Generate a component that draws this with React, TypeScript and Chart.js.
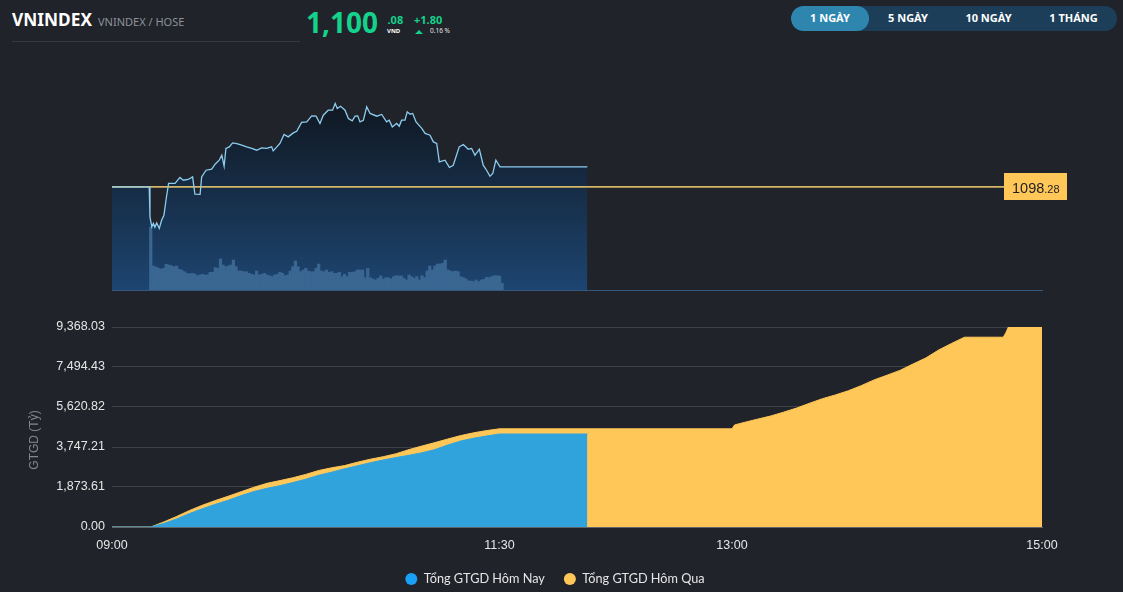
import React, { useEffect, useRef } from "react";
import { Chart, registerables } from "chart.js";

Chart.register(...registerables);

// ---------- DATA ----------
const REF_PRICE = 1098.28;

// intraday index (minutes after 09:00, price)
const priceMinute = [
  0, 14.4, 14.7, 15.4, 16.0, 16.6, 17.3, 18.3, 19.2, 20.1, 20.9, 21.9, 24.4, 26.3, 27.6, 29.5, 31.2, 32.1, 34.1, 34.7,
  36.4, 38.6, 39.9, 41.5, 42.5, 43.4, 44.1, 45.4, 46.7, 48.3, 50.2, 52.1, 54.1, 56.0, 57.9, 59.9, 61.8, 62.4, 63.8, 65.0,
  66.6, 68.2, 70.2, 71.5, 73.4, 75.4, 77.3, 79.0, 80.5, 81.8, 83.7, 85.4, 86.4, 87.2, 88.5, 90.2, 91.5, 93.0, 94.1, 95.1,
  96.0, 97.3, 98.6, 99.9, 102.5, 104.4, 106.3, 107.3, 108.5, 110.2, 111.2, 112.1, 113.4, 114.3, 115.4, 116.4, 117.7, 119.9, 121.2, 123.1,
  124.4, 125.7, 126.7, 128.9, 130.6, 132.1, 134.4, 136.0, 137.9, 139.2, 140.5, 142.2, 143.7, 145.0, 146.3, 147.4, 148.6, 150.2, 184.0,
];
const priceValue = [
  1098.28, 1098.28, 1095.58, 1094.68, 1094.99, 1094.65, 1095.04, 1094.54, 1095.28, 1095.73, 1097.08, 1098.59, 1098.59, 1099.13, 1098.88, 1098.95, 1099.18, 1097.62, 1097.6, 1099.18,
  1099.78, 1099.87, 1100.32, 1100.68, 1101.13, 1100.14, 1101.74, 1101.88, 1102.24, 1102.18, 1102.03, 1101.88, 1101.74, 1101.58, 1101.79, 1101.74, 1101.88, 1101.52, 1101.88, 1102.19,
  1103.0, 1102.78, 1103.14, 1103.29, 1104.08, 1104.13, 1104.67, 1104.64, 1103.99, 1104.73, 1105.18, 1105.18, 1105.79, 1105.34, 1105.54, 1105.18, 1104.44, 1104.22, 1104.64, 1104.67,
  1104.13, 1104.28, 1105.48, 1104.89, 1104.64, 1104.8, 1104.13, 1104.28, 1103.68, 1103.99, 1103.74, 1104.28, 1104.28, 1105.03, 1104.82, 1104.89, 1104.13, 1103.54, 1103.09, 1102.93,
  1102.33, 1102.19, 1100.53, 1100.68, 1100.03, 1100.23, 1101.88, 1102.1, 1101.67, 1101.74, 1101.13, 1101.67, 1100.23, 1099.78, 1099.24, 1099.49, 1100.68, 1100.08, 1100.08,
];

// per-minute volume from 09:15
const volumeStartMinute = 15;
const volumeToday = [
  630, 240, 230, 217, 210, 217, 257, 250, 243, 233,
  240, 207, 200, 183, 167, 160, 167, 160, 143, 150,
  157, 150, 150, 177, 177, 223, 217, 310, 250, 233,
  240, 250, 300, 233, 190, 190, 183, 183, 167, 157,
  150, 190, 150, 157, 167, 150, 143, 133, 150, 157,
  177, 167, 143, 150, 190, 233, 290, 233, 183, 200,
  217, 190, 183, 183, 217, 260, 190, 183, 200,
  177, 183, 167, 167, 177, 133, 157, 133, 177, 177,
  183, 200, 200, 200, 123, 217, 123, 110, 100, 117,
  140, 110, 123, 123, 110, 133, 143, 140, 140, 117,
  100, 150, 133, 117, 133, 100, 143, 123, 190, 240,
  200, 240, 260, 260, 267, 300, 200, 190, 183, 190,
  183, 133, 123, 110, 90, 90, 83, 100, 83, 100,
  107, 127, 123, 133, 143, 143, 140, 67,
];

// cumulative trading value (Tỷ)
const todayMinute = [0, 15, 20, 25, 30, 35, 40, 45, 50, 55, 60, 65, 70, 75, 80, 85, 90, 95, 100, 105, 110, 115, 120, 125, 130, 135, 140, 145, 150, 184];
const todayValue = [0, 0, 164, 375, 632, 857, 1063, 1251, 1471, 1663, 1813, 1934, 2080, 2239, 2422, 2567, 2726, 2867, 3012, 3138, 3255, 3358, 3476, 3625, 3841, 4028, 4159, 4262, 4356, 4356];

const yesterdayMinute = [
  0, 15, 20, 25, 30, 35, 40, 45, 50, 55, 60, 65, 70, 75, 80, 85, 90, 95, 100, 105, 110, 115, 120, 125, 130, 135, 140, 145, 150,
  240, 241, 245, 250, 255, 260, 265, 270, 275, 280, 285, 290, 295, 300, 305, 310, 315, 320, 325, 330, 345, 346, 347, 360,
];
const yesterdayValue = [
  0, 0, 234, 492, 773, 1021, 1241, 1443, 1654, 1864, 2047, 2173, 2305, 2464, 2646, 2773, 2876, 3035, 3176, 3293, 3433, 3625, 3794, 3953, 4122, 4281, 4412, 4515, 4600,
  4600, 4780, 4905, 5055, 5200, 5380, 5570, 5795, 6010, 6185, 6380, 6620, 6890, 7110, 7335, 7630, 7916, 8290, 8600, 8890, 8890, 9100, 9368.03, 9368.03,
];

const timeTickMinutes = [0, 150, 240, 360];
const timeTickLabels = ["09:00", "11:30", "13:00", "15:00"];
const gtgdTickValues = [0, 1873.61, 3747.21, 5620.82, 7494.43, 9368.03];
const gtgdTickLabels = ["0.00", "1,873.61", "3,747.21", "5,620.82", "7,494.43", "9,368.03"];
const seriesLabels = ["Tổng GTGD Hôm Nay", "Tổng GTGD Hôm Qua"];
const rangeButtons = ["1 NGÀY", "5 NGÀY", "10 NGÀY", "1 THÁNG"];

// ---------- STYLE ----------
const BG = "#20232a";
const GREEN = "#14d28c";
const BLUE_FILL = "#30a3dd";
const BLUE_DOT = "#18a1f6";
const YELLOW = "#ffc658";
const AXIS_FONT = "'Liberation Sans', Arial, sans-serif";

const refLabelPlugin = {
  id: "refLabel",
  afterDraw(chart: any) {
    const { ctx, chartArea } = chart;
    const y = chart.scales.y.getPixelForValue(REF_PRICE);
    const left = chartArea.right - 38;
    const w = 63;
    const h = 27;
    ctx.save();
    ctx.fillStyle = YELLOW;
    ctx.fillRect(left, Math.round(y - h / 2), w, h);
    const [intPart, decPart] = REF_PRICE.toFixed(2).split(".");
    ctx.fillStyle = "#1e1f22";
    ctx.textBaseline = "alphabetic";
    ctx.font = `14.5px ${AXIS_FONT}`;
    ctx.fillText(intPart, left + 8, y + 6);
    const wInt = ctx.measureText(intPart).width;
    ctx.font = `11px ${AXIS_FONT}`;
    ctx.fillText("." + decPart, left + 8 + wInt, y + 6);
    ctx.restore();
  },
};

const yTitlePlugin = {
  id: "yTitle",
  afterLayout(chart: any) {
    // centre the legend on the area to the right of the y-axis title
    if (chart.legend) chart.legend.left = 68;
  },
  afterDraw(chart: any) {
    const { ctx, chartArea } = chart;
    ctx.save();
    ctx.translate(35, (chartArea.top + chartArea.bottom) / 2 + 13);
    ctx.rotate(-Math.PI / 2);
    ctx.textAlign = "center";
    ctx.textBaseline = "middle";
    ctx.fillStyle = "#84878d";
    ctx.font = `12px ${AXIS_FONT}`;
    ctx.fillText("GTGD (Tỷ)", 0, 0);
    ctx.restore();
  },
};

export default function App() {
  const topRef = useRef<HTMLCanvasElement | null>(null);
  const botRef = useRef<HTMLCanvasElement | null>(null);

  useEffect(() => {
    const top = new Chart(topRef.current as HTMLCanvasElement, {
      type: "line",
      data: {
        datasets: [
          {
            type: "line",
            label: "VNINDEX",
            data: priceMinute.map((m, i) => ({ x: m, y: priceValue[i] })),
            borderColor: "#8ccdf0",
            borderWidth: 1.3,
            pointRadius: 0,
            tension: 0,
            fill: "start",
            backgroundColor: (c: any) => {
              const { chart } = c;
              const { ctx, chartArea } = chart;
              if (!chartArea) return "#1a3556";
              const g = ctx.createLinearGradient(0, chartArea.top, 0, chartArea.bottom);
              g.addColorStop(0, "#0f141b");
              g.addColorStop(1, "#1d4571");
              return g;
            },
            yAxisID: "y",
            order: 0,
          } as any,
          {
            type: "line",
            label: "ref",
            data: [
              { x: 0, y: REF_PRICE },
              { x: 360, y: REF_PRICE },
            ],
            borderColor: "#d4b466",
            borderWidth: 1.6,
            pointRadius: 0,
            fill: false,
            yAxisID: "y",
            order: 1,
          } as any,
          {
            type: "bar",
            label: "vol",
            data: volumeToday.map((v, i) => ({ x: volumeStartMinute + i, y: v })),
            backgroundColor: "#3a6692",
            borderWidth: 0,
            barPercentage: 1,
            categoryPercentage: 1,
            yAxisID: "yv",
            order: 2,
          } as any,
        ],
      },
      options: {
        animation: false,
        responsive: false,
        events: [],
        layout: { padding: { left: 112, right: 81, top: 40, bottom: 10 } },
        plugins: {
          legend: { display: false },
          tooltip: { enabled: false },
          filler: { drawTime: "beforeDatasetsDraw" },
        } as any,
        scales: {
          x: {
            type: "linear",
            min: 0,
            max: 360,
            offset: false,
            grid: { display: false, drawTicks: false },
            border: { display: true, color: "#33577d", width: 1 },
            ticks: { display: false },
            afterFit: (s: any) => {
              s.height = 0;
            },
          },
          y: { display: false, min: 1089, max: 1107 },
          yv: { display: false, min: 0, max: 2000 },
        } as any,
      },
      plugins: [refLabelPlugin],
    });

    const bot = new Chart(botRef.current as HTMLCanvasElement, {
      type: "line",
      data: {
        datasets: [
          {
            label: seriesLabels[0],
            data: todayMinute.map((m, i) => ({ x: m, y: todayValue[i] })),
            borderColor: BLUE_FILL,
            backgroundColor: BLUE_FILL,
            borderWidth: 1,
            pointRadius: 0,
            tension: 0,
            fill: "origin",
          },
          {
            label: seriesLabels[1],
            data: yesterdayMinute.map((m, i) => ({ x: m, y: yesterdayValue[i] })),
            borderColor: YELLOW,
            backgroundColor: YELLOW,
            borderWidth: 1,
            pointRadius: 0,
            tension: 0,
            fill: "origin",
          },
        ],
      },
      options: {
        animation: false,
        responsive: false,
        events: [],
        layout: { padding: { left: 0, right: 81, top: 26, bottom: 5.65 } },
        plugins: {
          tooltip: { enabled: false },
          legend: {
            position: "bottom",
            labels: {
              usePointStyle: true,
              pointStyle: "circle",
              boxWidth: 12,
              boxHeight: 8.5,
              padding: 19,
              color: "#e6e6e6",
              font: { family: "Lato, 'Noto Sans', sans-serif", size: 12.7 },
              generateLabels: (chart: any) => {
                const items = Chart.defaults.plugins.legend.labels.generateLabels(chart);
                const dots = [BLUE_DOT, YELLOW];
                return items.map((it: any, i: number) => ({
                  ...it,
                  fillStyle: dots[i],
                  strokeStyle: dots[i],
                  lineWidth: 0,
                }));
              },
            },
          },
        },
        scales: {
          x: {
            type: "linear",
            min: 0,
            max: 360,
            offset: false,
            grid: { display: false, drawTicks: false },
            border: { display: true, color: "#60656b", width: 1 },
            ticks: {
              color: "#e6e6e6",
              font: { family: AXIS_FONT, size: 12.5 },
              padding: 11,
              autoSkip: false,
              maxRotation: 0,
              callback: (_v: any, i: number) => timeTickLabels[i],
            },
            afterBuildTicks: (s: any) => {
              s.ticks = timeTickMinutes.map((v) => ({ value: v }));
            },
            afterFit: (s: any) => {
              s.height = 26.65;
            },
          },
          y: {
            min: 0,
            max: 9368.03,
            grid: { color: "#3d4046", drawTicks: false, lineWidth: 1 },
            border: { display: false },
            ticks: {
              color: "#e6e6e6",
              font: { family: AXIS_FONT, size: 12.5 },
              padding: 7,
              callback: (_v: any, i: number) => gtgdTickLabels[i],
            },
            afterBuildTicks: (s: any) => {
              s.ticks = gtgdTickValues.map((v) => ({ value: v }));
            },
            afterFit: (s: any) => {
              s.width = 112;
            },
          },
        } as any,
      },
      plugins: [yTitlePlugin],
    });

    return () => {
      top.destroy();
      bot.destroy();
    };
  }, []);

  const abs = (o: React.CSSProperties): React.CSSProperties => ({ position: "absolute", lineHeight: 1, whiteSpace: "nowrap", ...o });
  const btnW = [78, 78, 83, 87];

  return (
    <div
      style={{
        position: "fixed",
        left: 0,
        top: 0,
        width: 1123,
        height: 592,
        background: BG,
        overflow: "hidden",
        fontFamily: "'Noto Sans', sans-serif",
      }}
    >
      <div style={abs({ left: 12, top: 10.6, fontSize: 17.3, fontWeight: 700, color: "#ffffff" })}>VNINDEX</div>
      <div style={abs({ left: 98, top: 16.2, fontSize: 11, color: "#8e9299" })}>VNINDEX / HOSE</div>
      <div style={abs({ left: 12, top: 41, width: 288, height: 1, background: "#363940" })} />

      <div style={abs({ left: 306, top: 8.4, fontSize: 28, fontWeight: 700, color: GREEN })}>1,100</div>
      <div style={abs({ left: 387.5, top: 14.2, fontSize: 11, fontWeight: 700, color: GREEN })}>.08</div>
      <div style={abs({ left: 387, top: 28, fontSize: 6, fontWeight: 700, color: "#ffffff" })}>VND</div>
      <div style={abs({ left: 414, top: 14.2, fontSize: 11, fontWeight: 700, color: GREEN })}>+1.80</div>
      <div
        style={abs({
          left: 414.5,
          top: 29.5,
          width: 0,
          height: 0,
          borderLeft: "4.5px solid transparent",
          borderRight: "4.5px solid transparent",
          borderBottom: `4.5px solid ${GREEN}`,
        })}
      />
      <div style={abs({ left: 430, top: 28.2, fontSize: 6.5, color: "#e0e0e0" })}>0.16 %</div>

      <div
        style={abs({
          left: 791,
          top: 6,
          width: 326,
          height: 24.5,
          borderRadius: 12.25,
          background: "#1c3e59",
          display: "flex",
          overflow: "hidden",
        })}
      >
        {rangeButtons.map((b, i) => (
          <div
            key={b}
            style={{
              width: btnW[i],
              height: 24.5,
              lineHeight: "24.5px",
              textAlign: "center",
              fontSize: 11,
              fontWeight: 700,
              color: "#ffffff",
              borderRadius: 12.25,
              background: i === 0 ? "#2e86ae" : "transparent",
            }}
          >
            {b}
          </div>
        ))}
      </div>

      <canvas ref={topRef} width={1123} height={250} style={{ position: "absolute", left: 0, top: 50, width: 1123, height: 250 }} />
      <canvas ref={botRef} width={1123} height={300} style={{ position: "absolute", left: 0, top: 301, width: 1123, height: 300 }} />
    </div>
  );
}
